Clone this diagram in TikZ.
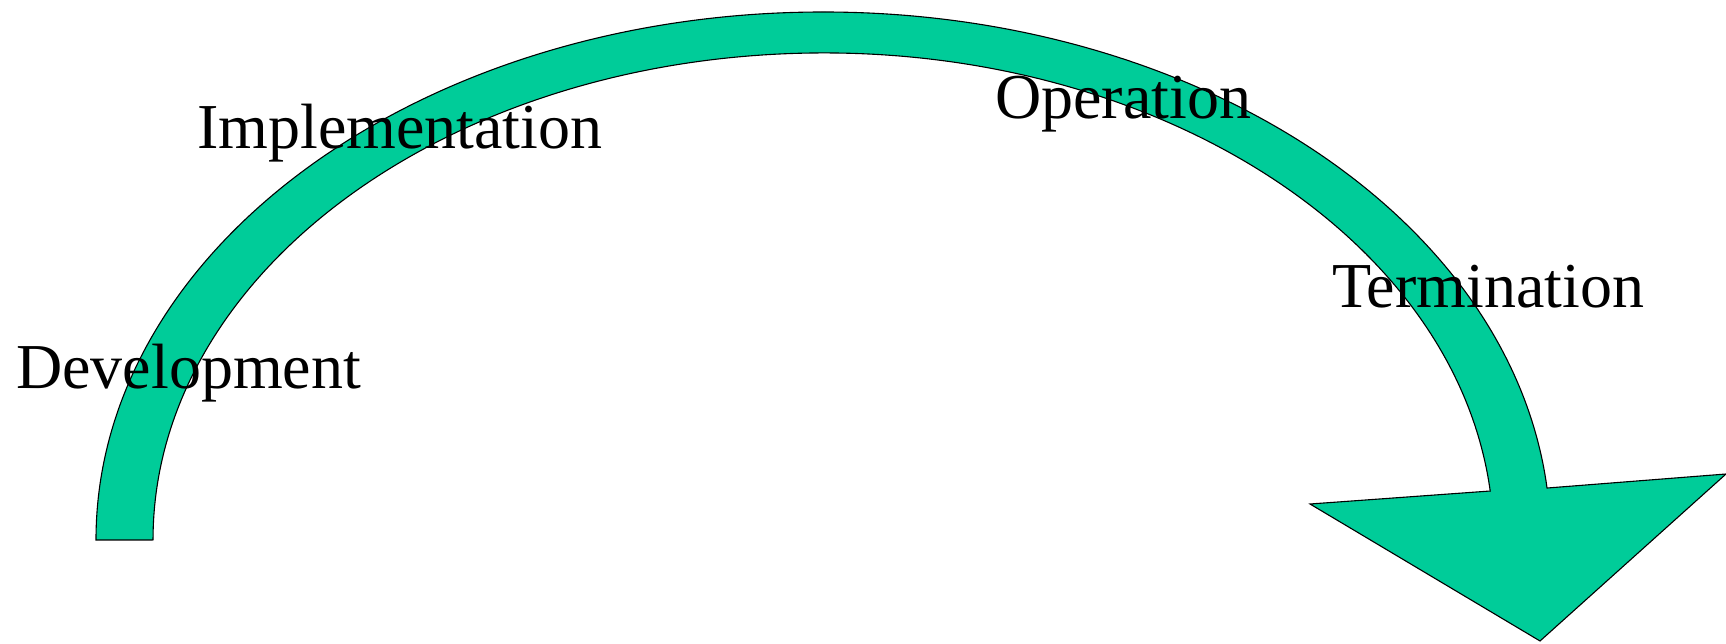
\documentclass[tikz,border=0pt]{standalone}
\usepackage{fontspec}
\setmainfont{Liberation Serif}
\definecolor{arrowgreen}{RGB}{0,204,153}
\tikzset{
  phase/.style={anchor=base west, inner sep=0pt, font=\fontsize{64}{70}\selectfont, text=black},
  bigarrow/.style={fill=arrowgreen, draw=black, line width=1.1pt, line join=miter}
}
\begin{document}
\begin{tikzpicture}[x=1pt, y=1pt]
\useasboundingbox (0,0) rectangle (1726,643);
% curved arrow
\coordinate (base) at (96,103);
\draw[bigarrow] (base)
  arc[start angle=180, end angle=5.65, x radius=727.3, y radius=528]
  -- (1726,169) -- (1540,2) -- (1310,139) -- (1490.2,152)
  arc[start angle=5.77, end angle=180, x radius=670.3, y radius=487]
  -- cycle;
% labels
\node[phase] (impl) at (197,494) {Implementation};
\node[phase] (oper) at (995,524) {Operation};
\node[phase] (term) at (1332,335) {Termination};
\node[phase] (dev)  at (16,254)  {Development};
\end{tikzpicture}
\end{document}
